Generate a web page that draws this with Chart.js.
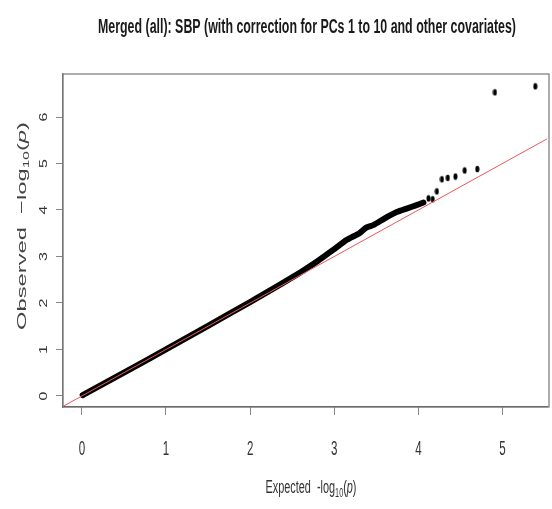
<!DOCTYPE html>
<html>
<head>
<meta charset="utf-8">
<script src="https://cdn.jsdelivr.net/npm/chart.js@4"></script>
<style>
  body { margin: 0; background: #fff; }
  #wrap { width: 552px; height: 509px; }
</style>
</head>
<body>
<div id="wrap"><canvas id="qq" width="552" height="509"></canvas></div>
<script>
// tick labels
const xTicks = [0, 1, 2, 3, 4, 5];
const yTicks = [0, 1, 2, 3, 4, 5, 6];

// dense part of the QQ cloud (read along the band)
const bandExpected = [0.01, 0.5, 1.0, 1.5, 2.0, 2.5, 2.8, 3.0, 3.15, 3.3, 3.38, 3.47, 3.6, 3.75, 3.86, 3.97, 4.06];
const bandObserved = [0.02, 0.5, 1.0, 1.51, 2.02, 2.55, 2.9, 3.16, 3.36, 3.5, 3.62, 3.68, 3.82, 3.96, 4.03, 4.1, 4.16];

// separate points in the tail
const tailExpected = [4.12, 4.17, 4.22, 4.28, 4.35, 4.44, 4.55, 4.70, 4.91, 5.39];
const tailObserved = [4.25, 4.23, 4.40, 4.66, 4.69, 4.72, 4.85, 4.88, 6.53, 6.66];

// y = x reference line
const refLine = [-0.3, 5.6];

const FONT = "'Liberation Sans', Arial, sans-serif";

// squashed dot like in the picture
const dot = document.createElement("canvas");
dot.width = 5;
dot.height = 8;
(function () {
  const c = dot.getContext("2d");
  c.fillStyle = "#000";
  c.beginPath();
  c.ellipse(2.5, 4, 2, 3.3, 0, 0, Math.PI * 2);
  c.fill();
})();

// draw text pieces centred on (x,y) baseline
// o.len: stretch to that length, o.sx: fixed length scale, o.sy: squash across the baseline
function drawRich(ctx, segs, x, y, o) {
  ctx.save();
  let w = 0;
  segs.forEach((s) => {
    ctx.font = s.f;
    s.w = ctx.measureText(s.t).width;
    w += s.w;
  });
  ctx.translate(x, y);
  if (o.rot) ctx.rotate(-Math.PI / 2);
  ctx.scale(o.len ? o.len / w : (o.sx || 1), o.sy || 1);
  let cx = -w / 2;
  ctx.textBaseline = "alphabetic";
  ctx.textAlign = "left";
  segs.forEach((s) => {
    ctx.font = s.f;
    ctx.fillText(s.t, cx, s.dy || 0);
    cx += s.w;
  });
  ctx.restore();
}

const textPlugin = {
  id: "texts",
  afterDraw(chart) {
    const ctx = chart.ctx;
    const a = chart.chartArea;
    const xs = chart.scales.x;
    const ys = chart.scales.y;

    // box
    ctx.save();
    ctx.strokeStyle = "#777";
    ctx.lineWidth = 1.2;
    ctx.strokeRect(a.left, a.top, a.right - a.left + 2, a.bottom - a.top);
    ctx.restore();

    // title
    ctx.fillStyle = "#1a1a1a";
    drawRich(ctx, [{ t: "Merged (all): SBP (with correction for PCs 1 to 10 and other covariates)", f: "bold 20px " + FONT }],
      307, 33, { len: 418 });

    ctx.fillStyle = "#333";
    // x tick labels
    xs.ticks.forEach((t) => {
      const px = xs.getPixelForValue(t.value);
      drawRich(ctx, [{ t: String(t.value), f: "21px " + FONT }], px, 455, { sx: 0.55 });
    });
    // y tick labels (rotated)
    ys.ticks.forEach((t) => {
      const py = ys.getPixelForValue(t.value);
      drawRich(ctx, [{ t: String(t.value), f: "16px " + FONT }], 47, py, { sy: 0.68, rot: true });
    });

    // axis titles
    drawRich(ctx, [
      { t: "Expected  -log", f: "18px " + FONT },
      { t: "10", f: "12px " + FONT, dy: 4 },
      { t: "(", f: "18px " + FONT },
      { t: "p", f: "italic 18px " + FONT },
      { t: ")", f: "18px " + FONT }
    ], 311, 493, { len: 91 });

    ctx.fillStyle = "#444";
    drawRich(ctx, [
      { t: "Observed  \u2212log", f: "20px " + FONT },
      { t: "10", f: "13px " + FONT, dy: 4 },
      { t: "(", f: "20px " + FONT },
      { t: "p", f: "italic 20px " + FONT },
      { t: ")", f: "20px " + FONT }
    ], 26, 226, { len: 208, sy: 0.68, rot: true });
  }
};

new Chart(document.getElementById("qq"), {
  type: "scatter",
  data: {
    datasets: [
      {
        label: "y = x",
        type: "line",
        data: refLine.map((v) => ({ x: v, y: v })),
        borderColor: "#e8585c",
        borderWidth: 1,
        pointRadius: 0,
        order: 0
      },
      {
        label: "band",
        type: "line",
        data: bandExpected.map((v, i) => ({ x: v, y: bandObserved[i] })),
        borderColor: "#000",
        borderWidth: 6,
        borderCapStyle: "round",
        borderJoinStyle: "round",
        pointRadius: 0,
        tension: 0.2,
        order: 1
      },
      {
        label: "tail",
        data: tailExpected.map((v, i) => ({ x: v, y: tailObserved[i] })),
        pointStyle: dot,
        order: 1
      }
    ]
  },
  options: {
    responsive: false,
    animation: false,
    events: [],
    layout: { padding: { top: 74, left: 0, right: 0, bottom: 0 } },
    plugins: {
      legend: { display: false },
      tooltip: { enabled: false },
      title: { display: false }
    },
    scales: {
      x: {
        type: "linear",
        min: -0.224,
        max: 5.529,
        afterBuildTicks: (s) => { s.ticks = xTicks.map((v) => ({ value: v })); },
        afterFit: (s) => { s.height = 102; },
        grid: { display: true, drawOnChartArea: false, drawTicks: true, tickLength: 8, color: "#888" },
        border: { display: true, color: "#555", width: 1.2 },
        ticks: { display: false }
      },
      y: {
        type: "linear",
        min: -0.237,
        max: 6.925,
        afterBuildTicks: (s) => { s.ticks = yTicks.map((v) => ({ value: v })); },
        afterFit: (s) => { s.width = 63; },
        grid: { display: true, drawOnChartArea: false, drawTicks: true, tickLength: 7, color: "#888" },
        border: { display: true, color: "#777", width: 1.2 },
        ticks: { display: false }
      }
    }
  },
  plugins: [textPlugin]
});
</script>
</body>
</html>
